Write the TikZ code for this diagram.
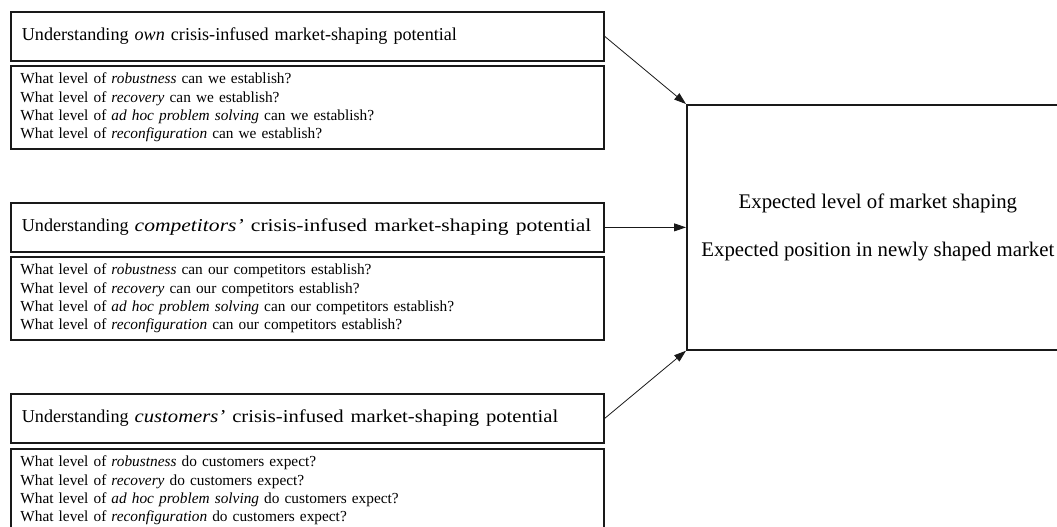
\documentclass[tikz,border=0pt]{standalone}
\usepackage{fontspec}
\usepackage{graphicx}
\setmainfont{Liberation Serif}
\usetikzlibrary{arrows.meta}
\begin{document}
\begin{tikzpicture}[x=0.75pt,y=-0.75pt,
  boxline/.style={draw=black!90, line width=1.3pt},
  titlebox/.style={boxline, anchor=north west, align=left, text width=428.25pt,
    inner xsep=8.25pt, inner ysep=0pt, minimum height=36.75pt,
    font=\fontsize{13.6}{15}\selectfont},
  qbox/.style={boxline, anchor=north west, align=left, text width=430.5pt,
    inner xsep=7.125pt, inner ysep=0pt, minimum height=62.25pt,
    font=\fontsize{11.5}{13.6}\selectfont},
  resultbox/.style={boxline, anchor=north west, align=center,
    minimum width=286.5pt, minimum height=183.75pt, inner sep=0pt,
    font=\fontsize{15.6}{36}\selectfont},
  flow/.style={draw=black!90, line width=0.6pt, -{Triangle[length=9pt,width=6pt]}}
]
\useasboundingbox (0,0) rectangle (1057,526);
\clip (0,0) rectangle (1057,526);

\node[titlebox] (t1) at (10,11) {Understanding \textit{own} crisis-infused market-shaping potential};
\node[qbox] (q1) at (10,65) {What level of \textit{robustness} can we establish?\\
What level of \textit{recovery} can we establish?\\
What level of \textit{ad hoc problem solving} can we establish?\\
What level of \textit{reconfiguration} can we establish?};

\node[titlebox] (t2) at (10,202) {Understanding \scalebox{1.19}[1]{\textit{competitors'} crisis-infused market-shaping potential}};
\node[qbox] (q2) at (10,256) {What level of \textit{robustness} can our competitors establish?\\
What level of \textit{recovery} can our competitors establish?\\
What level of \textit{ad hoc problem solving} can our competitors establish?\\
What level of \textit{reconfiguration} can our competitors establish?};

\node[titlebox] (t3) at (10,393) {Understanding \scalebox{1.14}[1]{\textit{customers'} crisis-infused market-shaping potential}};
\node[qbox] (q3) at (10,448) {What level of \textit{robustness} do customers expect?\\
What level of \textit{recovery} do customers expect?\\
What level of \textit{ad hoc problem solving} do customers expect?\\
What level of \textit{reconfiguration} do customers expect?};

\node[resultbox] (r) at (686,104) {Expected level of market shaping\\
Expected position in newly shaped market};

\draw[flow] (t1.east) -- (r.north west);
\draw[flow] (t2.east) -- (r.west);
\draw[flow] (t3.east) -- (r.south west);
\end{tikzpicture}
\end{document}
